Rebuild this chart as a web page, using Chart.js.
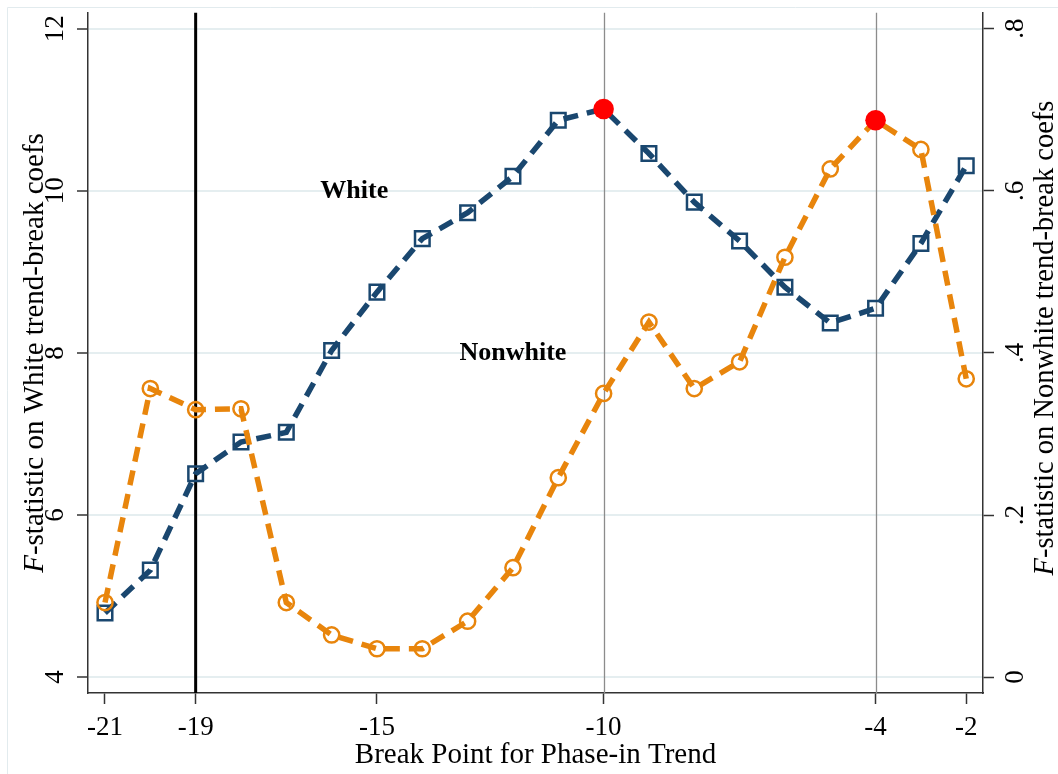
<!DOCTYPE html>
<html>
<head>
<meta charset="utf-8">
<script src="https://cdn.jsdelivr.net/npm/chart.js@4/dist/chart.umd.min.js"></script>
<style>
  html, body { margin: 0; padding: 0; background: #fff; }
  #wrap { width: 1058px; height: 774px; position: relative; }
</style>
</head>
<body>
<div id="wrap"><canvas id="c" width="1058" height="774"></canvas></div>
<script>
// Break points of the phase-in trend
const breakPoints = [-21, -20, -19, -18, -17, -16, -15, -14, -13, -12, -11, -10, -9, -8, -7, -6, -5, -4, -3, -2];
// F-statistics on White trend-break coefficients (left axis)
const whiteF = [4.79, 5.32, 6.51, 6.90, 7.02, 8.03, 8.75, 9.41, 9.73, 10.18, 10.87, 11.01, 10.46, 9.86, 9.38, 8.81, 8.37, 8.55, 9.35, 10.31];
// F-statistics on Nonwhite trend-break coefficients (right axis)
const nonwhiteF = [0.092, 0.356, 0.330, 0.331, 0.092, 0.052, 0.035, 0.035, 0.069, 0.135, 0.246, 0.350, 0.438, 0.356, 0.389, 0.518, 0.627, 0.687, 0.651, 0.368];

// Axis ticks
const xTicks = [-21, -19, -15, -10, -4, -2];
const leftTicks = [4, 6, 8, 10, 12];
const rightTicks = [0, 0.2, 0.4, 0.6, 0.8];
const rightTickLabels = ['0', '.2', '.4', '.6', '.8'];

// Reference lines and highlighted maxima
const chosenBreak = -19;
const peakBreaks = [-10, -4];
const whitePeakBreak = -10;
const nonwhitePeakBreak = -4;

// Text
const xTitle = 'Break Point for Phase-in Trend';
const leftTitleRest = '-statistic on White trend-break coefs';
const rightTitleRest = '-statistic on Nonwhite trend-break coefs';
const seriesNames = ['White', 'Nonwhite'];

const NAVY = '#1a476f';
const ORANGE = '#e8850c';
const SERIF = '"Liberation Serif", "Times New Roman", serif';

const whiteIdx = breakPoints.indexOf(whitePeakBreak);
const nonwhiteIdx = breakPoints.indexOf(nonwhitePeakBreak);

const whitePts = breakPoints.map((b, i) => ({ x: b, y: whiteF[i] }));
const nonwhitePts = breakPoints.map((b, i) => ({ x: b, y: nonwhiteF[i] }));

function drawMixed(ctx, parts, size) {
  // parts drawn left-to-right, centred on the current origin
  const widths = parts.map(p => {
    ctx.font = (p.italic ? 'italic ' : '') + size + 'px ' + SERIF;
    return ctx.measureText(p.text).width;
  });
  const total = widths.reduce((a, b) => a + b, 0);
  let x = -total / 2;
  parts.forEach((p, i) => {
    ctx.font = (p.italic ? 'italic ' : '') + size + 'px ' + SERIF;
    ctx.fillText(p.text, x, 0);
    x += widths[i];
  });
}

// keep the plot area flush with the layout box (no room reserved for overhanging labels)
function noOverhang(s) {
  s.paddingTop = 0;
  s.paddingBottom = 0;
  s.paddingLeft = 0;
  s.paddingRight = 0;
}

const overlay = {
  id: 'overlay',
  beforeDraw(chart) {
    const { ctx, width, height } = chart;
    ctx.save();
    ctx.fillStyle = '#fff';
    ctx.fillRect(0, 0, width, height);
    ctx.strokeStyle = '#e2ebee';
    ctx.lineWidth = 1;
    ctx.beginPath();
    ctx.moveTo(7.5, height);
    ctx.lineTo(7.5, 7.5);
    ctx.lineTo(width, 7.5);
    ctx.stroke();
    ctx.restore();
  },
  beforeDatasetsDraw(chart) {
    const { ctx, chartArea: a, scales: { x } } = chart;
    ctx.save();
    ctx.strokeStyle = '#8c8c8c';
    ctx.lineWidth = 1.3;
    peakBreaks.forEach(b => {
      const px = Math.round(x.getPixelForValue(b)) + 0.5;
      ctx.beginPath();
      ctx.moveTo(px, a.top);
      ctx.lineTo(px, a.bottom);
      ctx.stroke();
    });
    ctx.strokeStyle = '#000';
    ctx.lineWidth = 3;
    const px = x.getPixelForValue(chosenBreak);
    ctx.beginPath();
    ctx.moveTo(px, a.top);
    ctx.lineTo(px, a.bottom);
    ctx.stroke();
    ctx.restore();
  },
  afterDraw(chart) {
    const { ctx, chartArea: a, scales: { x, y } } = chart;
    ctx.save();
    ctx.fillStyle = '#000';
    ctx.textBaseline = 'alphabetic';

    // x-axis title
    ctx.save();
    ctx.translate((a.left + a.right) / 2, 763);
    drawMixed(ctx, [{ text: xTitle }], 29);
    ctx.restore();

    // left axis title
    ctx.save();
    ctx.translate(43, 353);
    ctx.rotate(-Math.PI / 2);
    drawMixed(ctx, [{ text: 'F', italic: true }, { text: leftTitleRest }], 29);
    ctx.restore();

    // right axis title
    ctx.save();
    ctx.translate(1053, 338);
    ctx.rotate(-Math.PI / 2);
    drawMixed(ctx, [{ text: 'F', italic: true }, { text: rightTitleRest }], 28.5);
    ctx.restore();

    // series labels
    ctx.font = 'bold 26px ' + SERIF;
    ctx.textAlign = 'center';
    ctx.textBaseline = 'middle';
    ctx.fillText(seriesNames[0], x.getPixelForValue(-15.5), y.getPixelForValue(10));
    ctx.fillText(seriesNames[1], x.getPixelForValue(-12), y.getPixelForValue(8));
    ctx.restore();
  }
};

const tickFont = { family: SERIF, size: 27 };

new Chart(document.getElementById('c'), {
  type: 'line',
  data: {
    datasets: [
      {
        label: 'White peak',
        type: 'scatter',
        data: [{ x: whitePeakBreak, y: whiteF[whiteIdx] }],
        yAxisID: 'y',
        pointStyle: 'circle',
        pointRadius: 10.3,
        pointBackgroundColor: '#ff0000',
        pointBorderWidth: 0,
        order: 0
      },
      {
        label: 'Nonwhite peak',
        type: 'scatter',
        data: [{ x: nonwhitePeakBreak, y: nonwhiteF[nonwhiteIdx] }],
        yAxisID: 'y1',
        pointStyle: 'circle',
        pointRadius: 10.3,
        pointBackgroundColor: '#ff0000',
        pointBorderWidth: 0,
        order: 0
      },
      {
        label: seriesNames[1],
        data: nonwhitePts,
        yAxisID: 'y1',
        borderColor: ORANGE,
        borderWidth: 5.5,
        borderDash: [15, 9],
        borderCapStyle: 'butt',
        tension: 0,
        fill: false,
        pointStyle: 'circle',
        pointRadius: ctx => ctx.dataIndex === nonwhiteIdx ? 0 : 7.6,
        pointBorderWidth: 2.5,
        pointBorderColor: ORANGE,
        pointBackgroundColor: 'rgba(0,0,0,0)',
        order: 1
      },
      {
        label: seriesNames[0],
        data: whitePts,
        yAxisID: 'y',
        borderColor: NAVY,
        borderWidth: 5.5,
        borderDash: [15, 9],
        borderCapStyle: 'butt',
        tension: 0,
        fill: false,
        pointStyle: 'rect',
        pointRadius: ctx => ctx.dataIndex === whiteIdx ? 0 : 10.3,
        pointBorderWidth: 2.5,
        pointBorderColor: NAVY,
        pointBackgroundColor: 'rgba(0,0,0,0)',
        order: 2
      }
    ]
  },
  options: {
    responsive: false,
    animation: false,
    devicePixelRatio: 1,
    layout: { padding: { top: 9, left: 0, right: 0, bottom: 0 } },
    plugins: { legend: { display: false }, tooltip: { enabled: false } },
    scales: {
      x: {
        type: 'linear',
        position: 'bottom',
        min: -21.375,
        max: -1.63,
        afterBuildTicks: s => { s.ticks = xTicks.map(v => ({ value: v })); },
        afterFit: s => { s.height = 81; noOverhang(s); },
        ticks: {
          font: tickFont, color: '#000', padding: 8, autoSkip: false,
          maxRotation: 0, minRotation: 0,
          callback: v => String(v)
        },
        grid: { drawOnChartArea: false, drawTicks: true, tickLength: 11, tickColor: '#333', tickWidth: 1.5 },
        border: { display: true, color: '#333', width: 1.5 }
      },
      y: {
        type: 'linear',
        position: 'left',
        min: 3.804,
        max: 12.196,
        afterBuildTicks: s => { s.ticks = leftTicks.map(v => ({ value: v })); },
        afterFit: s => { s.width = 88; noOverhang(s); },
        ticks: {
          font: tickFont, color: '#000', padding: 7.5, crossAlign: 'center',
          minRotation: 90, maxRotation: 90,
          callback: v => String(v)
        },
        grid: { color: '#e5eef0', lineWidth: 2, drawTicks: true, tickLength: 11, tickColor: '#333', tickWidth: 1.5 },
        border: { display: true, color: '#333', width: 1.5 }
      },
      y1: {
        type: 'linear',
        position: 'right',
        min: -0.0196,
        max: 0.8196,
        afterBuildTicks: s => { s.ticks = rightTicks.map(v => ({ value: v })); },
        afterFit: s => { s.width = 75; noOverhang(s); },
        ticks: {
          font: tickFont, color: '#000', padding: 12, crossAlign: 'center',
          minRotation: 90, maxRotation: 90,
          callback: (v, i) => rightTickLabels[i]
        },
        grid: { drawOnChartArea: false, drawTicks: true, tickLength: 11, tickColor: '#333', tickWidth: 1.5 },
        border: { display: true, color: '#333', width: 1.5 }
      }
    }
  },
  plugins: [overlay]
});
</script>
</body>
</html>
